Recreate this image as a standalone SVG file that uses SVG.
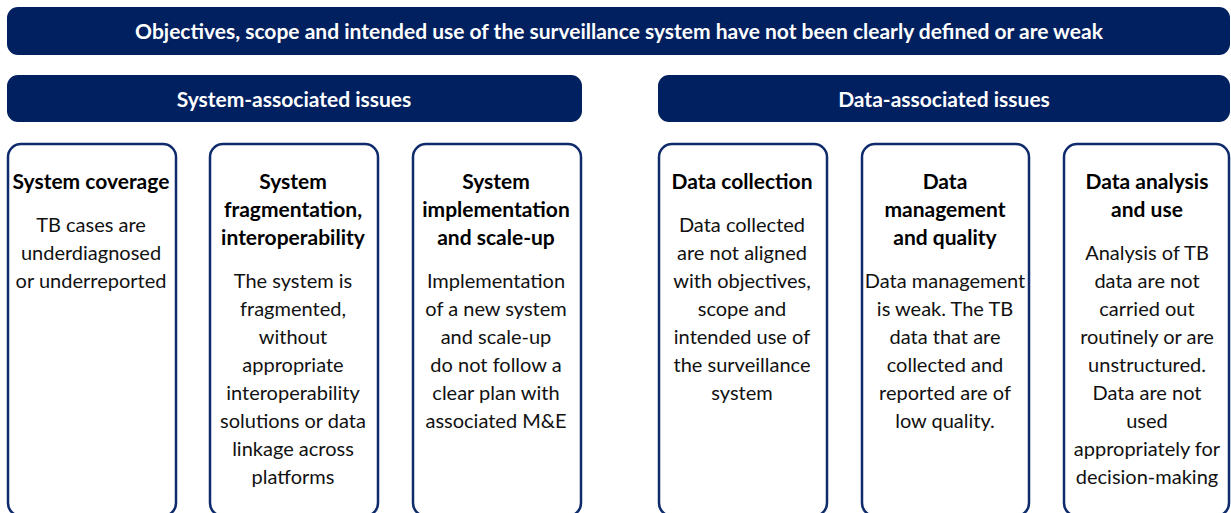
<svg xmlns="http://www.w3.org/2000/svg" width="1231" height="513" viewBox="0 0 1231 513">
<style>
.banner{fill:#002060;}
.bt{font-family:Lato,"Liberation Sans",sans-serif;font-weight:bold;font-size:21px;fill:#ffffff;text-anchor:middle;}
.box{fill:#ffffff;stroke:#0f2b6b;stroke-width:2.5;}
.h{font-family:Lato,"Liberation Sans",sans-serif;font-weight:bold;font-size:21px;fill:#000000;text-anchor:middle;}
.b{font-family:Lato,"Liberation Sans",sans-serif;font-size:20px;fill:#111111;text-anchor:middle;}
</style>
<rect width="1231" height="513" fill="#ffffff"/>
<g id="top">
<rect class="banner" x="7" y="7" width="1223" height="48" rx="11"/>
<text class="bt" x="619" y="39">Objectives, scope and intended use of the surveillance system have not been clearly defined or are weak</text>
</g>
<g id="system-issues">
<rect class="banner" x="7" y="75" width="575" height="47" rx="11"/>
<text class="bt" x="294" y="107">System-associated issues</text>
</g>
<g id="data-issues">
<rect class="banner" x="658" y="75" width="572" height="47" rx="11"/>
<text class="bt" x="944" y="107">Data-associated issues</text>
</g>
<g id="system-coverage">
<rect class="box" x="8" y="144" width="168" height="372" rx="13"/>
<text class="h" x="91" y="189">System coverage</text>
<text class="b" x="91" y="232">TB cases are</text>
<text class="b" x="91" y="260">underdiagnosed</text>
<text class="b" x="91" y="288">or underreported</text>
</g>
<g id="system-fragmentation">
<rect class="box" x="210" y="144" width="168" height="372" rx="13"/>
<text class="h" x="293" y="189">System</text>
<text class="h" x="293" y="217">fragmentation,</text>
<text class="h" x="293" y="245">interoperability</text>
<text class="b" x="293" y="288">The system is</text>
<text class="b" x="293" y="316">fragmented,</text>
<text class="b" x="293" y="344">without</text>
<text class="b" x="293" y="372">appropriate</text>
<text class="b" x="293" y="400">interoperability</text>
<text class="b" x="293" y="428">solutions or data</text>
<text class="b" x="293" y="456">linkage across</text>
<text class="b" x="293" y="484">platforms</text>
</g>
<g id="system-implementation">
<rect class="box" x="413" y="144" width="168" height="372" rx="13"/>
<text class="h" x="496" y="189">System</text>
<text class="h" x="496" y="217">implementation</text>
<text class="h" x="496" y="245">and scale-up</text>
<text class="b" x="496" y="288">Implementation</text>
<text class="b" x="496" y="316">of a new system</text>
<text class="b" x="496" y="344">and scale-up</text>
<text class="b" x="496" y="372">do not follow a</text>
<text class="b" x="496" y="400">clear plan with</text>
<text class="b" x="496" y="428">associated M&amp;E</text>
</g>
<g id="data-collection">
<rect class="box" x="659" y="144" width="168" height="372" rx="13"/>
<text class="h" x="742" y="189">Data collection</text>
<text class="b" x="742" y="232">Data collected</text>
<text class="b" x="742" y="260">are not aligned</text>
<text class="b" x="742" y="288">with objectives,</text>
<text class="b" x="742" y="316">scope and</text>
<text class="b" x="742" y="344">intended use of</text>
<text class="b" x="742" y="372">the surveillance</text>
<text class="b" x="742" y="400">system</text>
</g>
<g id="data-management">
<rect class="box" x="862" y="144" width="167" height="372" rx="13"/>
<text class="h" x="945" y="189">Data</text>
<text class="h" x="945" y="217">management</text>
<text class="h" x="945" y="245">and quality</text>
<text class="b" x="945" y="288">Data management</text>
<text class="b" x="945" y="316">is weak. The TB</text>
<text class="b" x="945" y="344">data that are</text>
<text class="b" x="945" y="372">collected and</text>
<text class="b" x="945" y="400">reported are of</text>
<text class="b" x="945" y="428">low quality.</text>
</g>
<g id="data-analysis">
<rect class="box" x="1064" y="144" width="165" height="372" rx="13"/>
<text class="h" x="1147" y="189">Data analysis</text>
<text class="h" x="1147" y="217">and use</text>
<text class="b" x="1147" y="260">Analysis of TB</text>
<text class="b" x="1147" y="288">data are not</text>
<text class="b" x="1147" y="316">carried out</text>
<text class="b" x="1147" y="344">routinely or are</text>
<text class="b" x="1147" y="372">unstructured.</text>
<text class="b" x="1147" y="400">Data are not</text>
<text class="b" x="1147" y="428">used</text>
<text class="b" x="1147" y="456">appropriately for</text>
<text class="b" x="1147" y="484">decision-making</text>
</g>
<g id="connectors"/>
</svg>
